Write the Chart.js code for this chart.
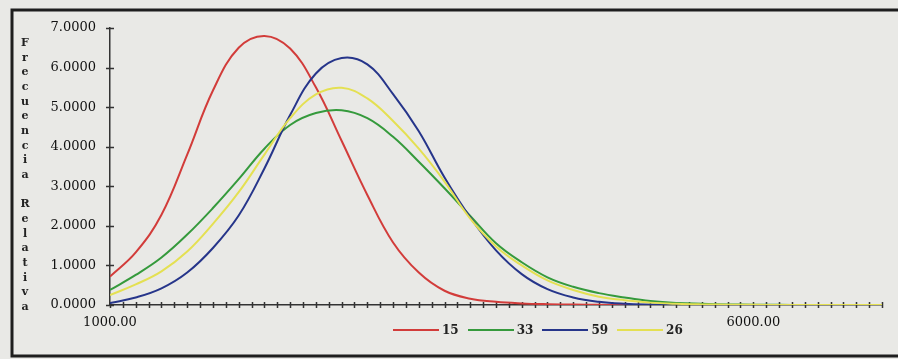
<!DOCTYPE html>
<html>
<head>
<meta charset="utf-8">
<script src="https://cdn.jsdelivr.net/npm/chart.js@4.4.1/dist/chart.umd.min.js"></script>
<style>
  html, body { margin: 0; padding: 0; background: #e9e9e6; }
  #wrap { position: relative; width: 898px; height: 359px; }
  #legend { position: absolute; left: 393px; top: 323px; display: flex; align-items: center;
            font: bold 12px "DejaVu Serif", serif; color: #222; }
  #legend .ln { display: inline-block; width: 46px; height: 2px; margin-right: 3px; }
  #legend .tx { margin-right: 9px; }
</style>
</head>
<body>
<div id="wrap">
  <canvas id="chart" width="898" height="359"></canvas>
  <div id="legend"></div>
</div>
<script>
// valores, cada 200 unidades
const xs = [1000, 1200, 1400, 1600, 1800, 2000, 2200, 2400, 2600, 2800, 3000,
            3200, 3400, 3600, 3800, 4000, 4200, 4400, 4600, 4800, 5000,
            5200, 5400, 5600, 5800, 6000, 6200, 6400, 6600, 6800, 7000];

const labels = ["15", "33", "59", "26"];

const s15 = [0.72, 1.33, 2.28, 3.80, 5.42, 6.50, 6.80, 6.48, 5.50, 4.15, 2.78,
             1.58, 0.82, 0.36, 0.16, 0.08, 0.04, 0.02, 0.01, 0.005, 0,
             0, 0, 0, 0, 0, 0, 0, 0, 0, 0];
const s33 = [0.38, 0.76, 1.20, 1.78, 2.45, 3.18, 3.95, 4.55, 4.85, 4.92, 4.72,
             4.25, 3.62, 2.95, 2.25, 1.56, 1.08, 0.70, 0.46, 0.30, 0.19,
             0.10, 0.05, 0.03, 0.015, 0.008, 0.004, 0, 0, 0, 0];
const s59 = [0.05, 0.19, 0.42, 0.82, 1.44, 2.26, 3.45, 4.80, 5.85, 6.24, 6.08,
             5.33, 4.39, 3.22, 2.21, 1.38, 0.78, 0.40, 0.19, 0.08, 0.03,
             0.01, 0, 0, 0, 0, 0, 0, 0, 0, 0];
const s26 = [0.25, 0.52, 0.85, 1.35, 2.05, 2.85, 3.80, 4.72, 5.32, 5.49, 5.22,
             4.65, 3.95, 3.12, 2.18, 1.48, 1.00, 0.62, 0.38, 0.21, 0.12,
             0.06, 0.03, 0.015, 0.008, 0.004, 0.002, 0, 0, 0, 0];

const yTickLabels = ["0.0000", "1.0000", "2.0000", "3.0000", "4.0000", "5.0000", "6.0000", "7.0000"];
const xTickLabels = { 1000: "1000.00", 6000: "6000.00" };
const yTitle = "Frecuencia Relativa";

const colors = ["#d23c3a", "#359a3c", "#26358a", "#e4e052"];
const series = [s15, s33, s59, s26];

const tickFont = { family: "DejaVu Serif", size: 13 };

// marco, marcas de los ejes que cruzan la linea y titulo vertical
const extras = {
  id: "extras",
  beforeDraw(chart) {
    const ctx = chart.ctx;
    ctx.save();
    ctx.fillStyle = "#e9e9e6";
    ctx.fillRect(0, 0, chart.width, chart.height);
    ctx.strokeStyle = "#1e1e1e";
    ctx.lineWidth = 3;
    ctx.beginPath();
    ctx.moveTo(905, 10);
    ctx.lineTo(12, 10);
    ctx.lineTo(12, 356);
    ctx.lineTo(905, 356);
    ctx.stroke();
    ctx.restore();
  },
  beforeDatasetsDraw(chart) {
    const { ctx, chartArea, scales: { x, y } } = chart;
    ctx.save();
    ctx.strokeStyle = "#333";
    ctx.lineWidth = 1.5;
    ctx.beginPath();
    x.ticks.forEach((t, i) => {
      const px = Math.round(x.getPixelForTick(i)) + 0.5;
      ctx.moveTo(px, chartArea.bottom - 3);
      ctx.lineTo(px, chartArea.bottom + 3);
    });
    y.ticks.forEach((t, i) => {
      const py = Math.round(y.getPixelForTick(i)) + 0.5;
      ctx.moveTo(chartArea.left - 4, py);
      ctx.lineTo(chartArea.left + 4, py);
    });
    ctx.stroke();

    // letras apiladas
    ctx.fillStyle = "#222";
    ctx.font = "bold 11px 'DejaVu Serif'";
    ctx.textAlign = "center";
    ctx.textBaseline = "middle";
    const chars = yTitle.split("");
    const top = chartArea.top + 15;
    const step = (chartArea.bottom + 2 - top) / (chars.length - 1);
    chars.forEach((c, i) => ctx.fillText(c, 25, top + i * step));
    ctx.restore();
  }
};

const chart = new Chart(document.getElementById("chart"), {
  type: "line",
  data: {
    datasets: series.map((s, k) => ({
      label: labels[k],
      data: s.map((v, i) => ({ x: xs[i], y: v })),
      borderColor: colors[k],
      backgroundColor: colors[k],
      borderWidth: 2,
      pointRadius: 0,
      tension: 0.4,
      order: series.length - k,
      fill: false
    }))
  },
  options: {
    responsive: false,
    devicePixelRatio: 1,
    animation: false,
    layout: { padding: { top: 28, right: 16, left: 0, bottom: 0 } },
    plugins: { legend: { display: false }, tooltip: { enabled: false } },
    scales: {
      x: {
        type: "linear",
        min: 1000,
        max: 7000,
        grid: { display: false, drawTicks: false },
        border: { color: "#333", width: 1.5 },
        ticks: {
          stepSize: 100,
          maxTicksLimit: 100,
          autoSkip: false,
          maxRotation: 0,
          minRotation: 0,
          padding: 10,
          font: tickFont,
          color: "#111",
          callback: (v) => xTickLabels[v] || ""
        },
        afterFit: (s) => { s.height = 54; }
      },
      y: {
        min: 0,
        max: 7,
        grid: { display: false, drawTicks: false },
        border: { color: "#333", width: 1.5 },
        ticks: {
          stepSize: 1,
          padding: 14,
          font: tickFont,
          color: "#111",
          callback: (v) => yTickLabels[v]
        },
        afterFit: (s) => { s.width = 110; }
      }
    }
  },
  plugins: [extras]
});

// leyenda
const legend = document.getElementById("legend");
chart.data.datasets.forEach((d) => {
  const ln = document.createElement("span");
  ln.className = "ln";
  ln.style.background = d.borderColor;
  const tx = document.createElement("span");
  tx.className = "tx";
  tx.textContent = d.label;
  legend.appendChild(ln);
  legend.appendChild(tx);
});
</script>
</body>
</html>
